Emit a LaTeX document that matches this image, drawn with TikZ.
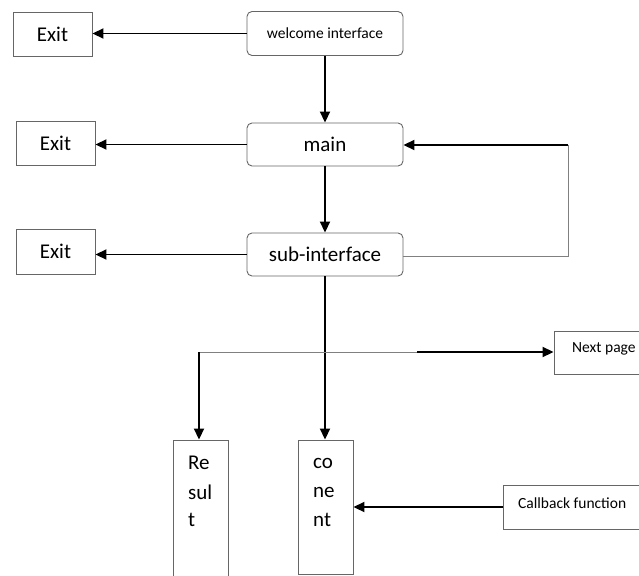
\documentclass[tikz,border=0pt]{standalone}
\usepackage{fontspec}
\setmainfont{Carlito}
\usetikzlibrary{arrows.meta}
\begin{document}
\begin{tikzpicture}[x=1pt,y=-1pt,
  box/.style={draw=black!60, line width=0.9pt, inner sep=0pt},
  rbox/.style={box, rounded corners=5pt},
  arr/.style={line width=1.8pt, -{Triangle[length=11pt,width=10pt]}},
  thinline/.style={draw=black!50, line width=1pt},
  big/.style={font=\fontsize{21}{25}\selectfont},
  small/.style={font=\fontsize{15.5}{18}\selectfont},
  txt/.style={inner sep=0pt, anchor=west}]
\useasboundingbox (0,0) rectangle (639,575);
\clip (0,0) rectangle (639,575);
% boxes
\node[box, minimum width=79, minimum height=44, big] (exit1) at (52.5,34) {Exit};
\node[rbox, minimum width=156, minimum height=44, small] (welcome) at (325,33.5) {welcome interface};
\node[box, minimum width=79, minimum height=44, big] (exit2) at (55.5,143) {Exit};
\node[rbox, minimum width=156, minimum height=43, big] (main) at (325,144.5) {main};
\node[box, minimum width=79, minimum height=45, big] (exit3) at (55.5,251.5) {Exit};
\node[rbox, minimum width=156, minimum height=43, big] (sub) at (325,254.5) {sub-interface};
\node[box, minimum width=126, minimum height=43] (next) at (617,352.5) {};
\node[small, txt] (nexttext) at (572,349) {Next page};
\node[box, minimum width=177, minimum height=44] (callback) at (591.5,507) {};
\node[small, txt] (cbtext) at (518,503) {Callback function};
\node[box, minimum width=55, minimum height=160] (result) at (200.5,520) {};
\node[big, txt] (r1) at (188,463) {Re};
\node[big, txt] (r2) at (188,492) {sul};
\node[big, txt] (r3) at (188,520) {t};
\node[box, minimum width=55, minimum height=134] (conent) at (325.5,507) {};
\node[big, txt] (c1) at (313,463) {co};
\node[big, txt] (c2) at (313,492) {ne};
\node[big, txt] (c3) at (313,520) {nt};
% connectors
\draw[arr] (welcome.west) -- (welcome.west -| exit1.east);
\draw[arr] (welcome.south) -- (main.north);
\draw[arr] (main.west) -- (main.west -| exit2.east);
\draw[arr] (main.south) -- (sub.north);
\draw[arr] (sub.west) -- (sub.west -| exit3.east);
\coordinate (loopb) at (568,256);
\coordinate (loopt) at (568,145);
\draw[thinline] (sub.east |- loopb) -- (loopb) -- (loopt);
\draw[arr] (loopt) -- (loopt -| main.east);
\draw[arr] (sub.south) -- (sub.south |- conent.north);
\coordinate (br) at (199,352);
\coordinate (bm) at (417,352);
\draw[thinline] (br) -- (bm);
\draw[arr] (bm) -- (bm -| next.west);
\draw[arr] (br) -- (br |- result.north);
\draw[arr] (callback.west) -- (callback.west -| conent.east);
\end{tikzpicture}
\end{document}
